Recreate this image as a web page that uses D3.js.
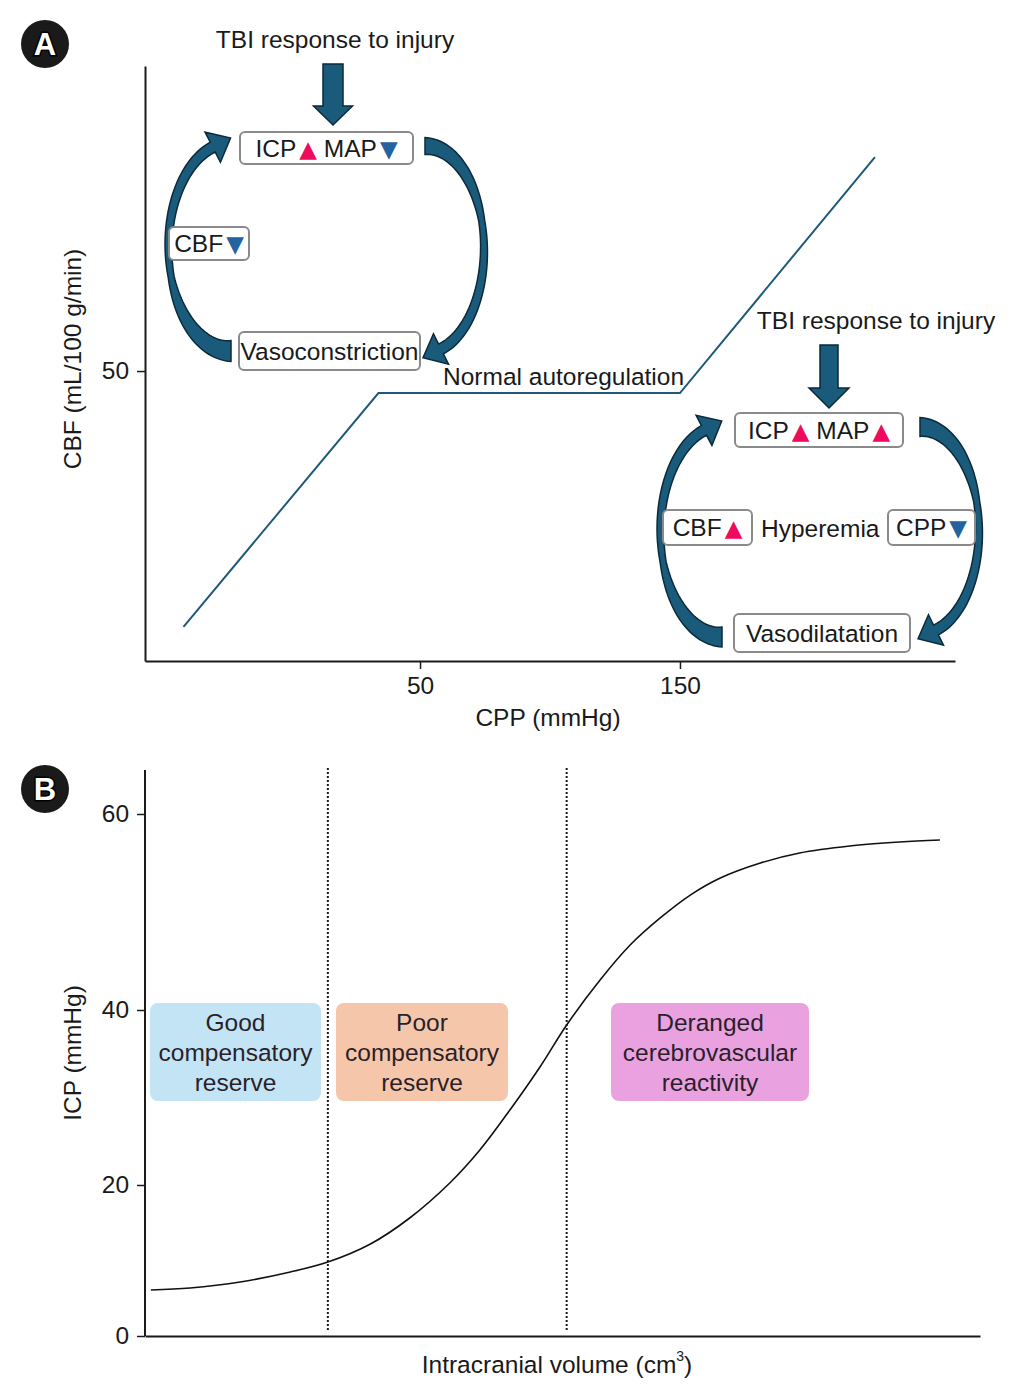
<!DOCTYPE html>
<html>
<head>
<meta charset="utf-8">
<script src="https://cdn.jsdelivr.net/npm/d3@7"></script>
<style>
  body { margin: 0; background: #fff; }
  text { font-family: "Liberation Sans", Arial, sans-serif; fill: #1a1a1a; }
</style>
</head>
<body>
<div id="chart"></div>
<script>
// ---- data ----
// panel A: CBF vs CPP autoregulation curve (schematic units)
const cppValues = [-41, 34, 150, 225];
const cbfValues = [5.9, 46.2, 46.2, 86.9];
const cppTicks = [50, 150];
const cbfTicks = [50];

// panel B: pressure-volume curve
const volValues = [0.7, 5.4, 11.4, 17.4, 21.9, 27.0, 31.7, 36.5, 40.1, 43.7, 47.3, 50.5, 54.5, 58.1, 61.7, 65.3, 68.9, 73.7, 78.4, 84.4, 90.4, 95.2];
const icpValues = [6.09, 6.36, 7.15, 8.48, 9.80, 12.19, 15.63, 20.23, 24.0, 28.57, 33.49, 38.29, 43.06, 46.63, 49.39, 51.73, 53.47, 55.0, 56.02, 56.73, 57.14, 57.35];
const icpTicks = [0, 20, 40, 60];
const zoneBounds = [21.9, 50.5];
const zoneLabels = [
  ["Good", "compensatory", "reserve"],
  ["Poor", "compensatory", "reserve"],
  ["Deranged", "cerebrovascular", "reactivity"]
];

const W = 1029, H = 1395;
const FS = 24.5;
const svg = d3.select("#chart").append("svg").attr("width", W).attr("height", H);

const arrowFill = "#1a5b7b", arrowStroke = "#0b2a3a";
const upCol = "#ee0a5c", downCol = "#2462a0";

function panelLetter(x, y, letter) {
  svg.append("circle").attr("cx", x).attr("cy", y).attr("r", 24).attr("fill", "#1a1a1a");
  svg.append("text").attr("x", x).attr("y", y + 11).attr("text-anchor", "middle")
    .attr("font-size", 31).attr("font-weight", "bold")
    .style("fill", "#fff").attr("stroke", "#000").attr("stroke-width", 3)
    .attr("paint-order", "stroke").text(letter);
}

// thick curved arrow along an ellipse, tail at t0, head at t1 (degrees)
function curvedArrow(a) {
  const n = 80;
  const wScale = d3.scaleLinear().domain([0, 0.45, 1]).range(a.w);
  const left = [], right = [];
  let last;
  for (let i = 0; i <= n; i++) {
    const s = i / n;
    const t = (a.t0 + (a.t1 - a.t0) * s) * Math.PI / 180;
    const p = [a.cx + a.rx * Math.cos(t), a.cy + a.ry * Math.sin(t)];
    let d = [-a.rx * Math.sin(t), a.ry * Math.cos(t)];
    const len = Math.hypot(d[0], d[1]);
    d = [d[0] / len, d[1] / len];
    const nn = [-d[1], d[0]];
    const hw = wScale(s) / 2;
    left.push([p[0] + nn[0] * hw, p[1] + nn[1] * hw]);
    right.push([p[0] - nn[0] * hw, p[1] - nn[1] * hw]);
    last = { p, d, nn };
  }
  const tip = [last.p[0] + last.d[0] * a.headLen, last.p[1] + last.d[1] * a.headLen];
  const bl = [last.p[0] + last.nn[0] * a.headHalf, last.p[1] + last.nn[1] * a.headHalf];
  const br = [last.p[0] - last.nn[0] * a.headHalf, last.p[1] - last.nn[1] * a.headHalf];
  const pts = left.concat([bl, tip, br], right.reverse());
  svg.append("path").attr("d", d3.line()(pts) + "Z")
    .attr("fill", arrowFill).attr("stroke", arrowStroke).attr("stroke-width", 1.5)
    .attr("stroke-linejoin", "miter");
}

function downArrow(cx, top, headStart, tip, shaftW, headW) {
  const pts = [[cx - shaftW / 2, top], [cx + shaftW / 2, top], [cx + shaftW / 2, headStart],
    [cx + headW / 2, headStart], [cx, tip], [cx - headW / 2, headStart], [cx - shaftW / 2, headStart]];
  svg.append("path").attr("d", d3.line()(pts) + "Z")
    .attr("fill", arrowFill).attr("stroke", arrowStroke).attr("stroke-width", 1.5);
}

// box with text parts: strings, or {up:true}/{up:false} triangles
function labelBox(b) {
  svg.append("rect").attr("x", b.x).attr("y", b.y).attr("width", b.w).attr("height", b.h)
    .attr("rx", 5).attr("fill", "#fff").attr("stroke", "#8a8a8a").attr("stroke-width", 2);
  const t = svg.append("text").attr("x", b.x + b.w / 2).attr("y", b.y + b.h / 2 + 8.5)
    .attr("text-anchor", "middle").attr("font-size", FS);
  b.parts.forEach(p => {
    if (typeof p === "string") t.append("tspan").text(p);
    else t.append("tspan").attr("font-family", "DejaVu Sans").attr("font-size", 23).attr("dx", 3)
      .style("fill", p.up ? upCol : downCol).text(p.up ? "▲" : "▼");
  });
}

function styleAxis(g) {
  g.select(".domain").attr("stroke", "#1a1a1a").attr("stroke-width", 2);
  g.selectAll(".tick line").attr("stroke", "#1a1a1a").attr("stroke-width", 1.5);
  g.selectAll(".tick text").attr("font-size", FS)
    .attr("font-family", "Liberation Sans, Arial, sans-serif").style("fill", "#1a1a1a");
}

// ================= PANEL A =================
const ax = { left: 145, right: 955, top: 66, bottom: 661 };
const xA = d3.scaleLinear().domain([-55.8, 255.8]).range([ax.left, ax.right]);
const yA = d3.scaleLinear().domain([0, 102.6]).range([ax.bottom, ax.top]);

panelLetter(45, 44, "A");

svg.append("g").attr("transform", `translate(0,${ax.bottom})`)
  .call(d3.axisBottom(xA).tickValues(cppTicks).tickSize(8).tickSizeOuter(0))
  .call(styleAxis)
  .call(g => g.selectAll(".tick text").attr("y", 16));

svg.append("g").attr("transform", `translate(${ax.left},0)`)
  .call(d3.axisLeft(yA).tickValues(cbfTicks).tickSize(8).tickSizeOuter(0))
  .call(styleAxis)
  .call(g => g.selectAll(".tick text").attr("dx", "-0.2em"));

svg.append("text").attr("x", 548).attr("y", 726).attr("text-anchor", "middle")
  .attr("font-size", FS).text("CPP (mmHg)");
svg.append("text").attr("transform", "translate(81,359) rotate(-90)").attr("text-anchor", "middle")
  .attr("font-size", FS).text("CBF (mL/100 g/min)");

const autoData = cppValues.map((v, i) => ({ x: v, y: cbfValues[i] }));
svg.append("path").datum(autoData)
  .attr("d", d3.line().x(d => xA(d.x)).y(d => yA(d.y)))
  .attr("fill", "none").attr("stroke", "#1f5a78").attr("stroke-width", 2);

svg.append("text").attr("x", 443).attr("y", 385).attr("font-size", FS).text("Normal autoregulation");

// left cycle (vasoconstriction)
svg.append("text").attr("x", 335).attr("y", 48).attr("text-anchor", "middle")
  .attr("font-size", FS).text("TBI response to injury");
downArrow(333, 64, 106, 125, 20, 39);
curvedArrow({ cx: 231, cy: 246.8, rx: 62.5, ry: 104.2, t0: 90, t1: 253, w: [21, 6, 11], headLen: 20, headHalf: 17 });
curvedArrow({ cx: 425, cy: 249.4, rx: 59, ry: 103.4, t0: -90, t1: 74.3, w: [17, 6, 11], headLen: 20, headHalf: 17 });
labelBox({ x: 240, y: 132, w: 173, h: 32, parts: ["ICP", { up: true }, " MAP", { up: false }] });
labelBox({ x: 169, y: 227, w: 80, h: 33, parts: ["CBF", { up: false }] });
labelBox({ x: 239, y: 332, w: 181, h: 38, parts: ["Vasoconstriction"] });

// right cycle (vasodilatation)
svg.append("text").attr("x", 876).attr("y", 329).attr("text-anchor", "middle")
  .attr("font-size", FS).text("TBI response to injury");
downArrow(829, 345, 388, 408, 18, 40);
curvedArrow({ cx: 722, cy: 531.4, rx: 61.5, ry: 105.6, t0: 90, t1: 253, w: [20, 6, 11], headLen: 20, headHalf: 17 });
curvedArrow({ cx: 920, cy: 530.4, rx: 59, ry: 103.4, t0: -90, t1: 74.3, w: [19, 6, 11], headLen: 20, headHalf: 17 });
labelBox({ x: 735, y: 413, w: 168, h: 34, parts: ["ICP", { up: true }, " MAP", { up: true }] });
labelBox({ x: 663, y: 510, w: 89, h: 35, parts: ["CBF", { up: true }] });
svg.append("text").attr("x", 761).attr("y", 537).attr("font-size", FS).text("Hyperemia");
labelBox({ x: 888, y: 510, w: 87, h: 35, parts: ["CPP", { up: false }] });
labelBox({ x: 734, y: 614, w: 176, h: 38, parts: ["Vasodilatation"] });

// ================= PANEL B =================
const bx = { left: 145, right: 980, top: 770, bottom: 1336 };
const xB = d3.scaleLinear().domain([0, 100]).range([bx.left, bx.right]);
const yB = d3.scaleLinear().domain(icpTicks).range([1336, 1185, 1010, 814]);

panelLetter(45, 789, "B");

svg.append("g").attr("transform", `translate(0,${bx.bottom})`)
  .call(d3.axisBottom(xB).tickValues([]).tickSizeOuter(0))
  .call(styleAxis);

svg.append("g").attr("transform", `translate(${bx.left},0)`)
  .call(d3.axisLeft(yB).tickValues(icpTicks).tickSize(8).tickSizeOuter(0))
  .call(styleAxis)
  .call(g => g.select(".domain").attr("d", `M0,${bx.top}V${bx.bottom}`))
  .call(g => g.selectAll(".tick text").attr("dx", "-0.2em"));

const xl = svg.append("text").attr("x", 557).attr("y", 1373).attr("text-anchor", "middle")
  .attr("font-size", FS);
xl.append("tspan").text("Intracranial volume (cm");
xl.append("tspan").attr("font-size", 14).attr("dy", -12).text("3");
xl.append("tspan").attr("dy", 12).text(")");

svg.append("text").attr("transform", "translate(81,1053) rotate(-90)").attr("text-anchor", "middle")
  .attr("font-size", FS).text("ICP (mmHg)");

// zone boxes
const zoneBoxes = [
  { x0: 150, x1: 321, fill: "#c3e4f4" },
  { x0: 336, x1: 508, fill: "#f5c6aa" },
  { x0: 611, x1: 809, fill: "#e9a2df" }
];
zoneBoxes.forEach((z, i) => {
  svg.append("rect").attr("x", z.x0).attr("y", yB(40) - 7).attr("width", z.x1 - z.x0)
    .attr("height", 98).attr("rx", 8).attr("fill", z.fill);
  const t = svg.append("text").attr("text-anchor", "middle").attr("font-size", FS)
    .style("fill", "#2a1f2a");
  zoneLabels[i].forEach((line, j) => {
    t.append("tspan").attr("x", (z.x0 + z.x1) / 2).attr("y", 1031 + j * 30).text(line);
  });
});

// dotted boundaries
zoneBounds.forEach(v => {
  svg.append("line").attr("x1", xB(v)).attr("x2", xB(v)).attr("y1", 768).attr("y2", 1330)
    .attr("stroke", "#1a1a1a").attr("stroke-width", 2).attr("stroke-dasharray", "2,2");
});

const pvData = volValues.map((v, i) => ({ x: v, y: icpValues[i] }));
svg.append("path").datum(pvData)
  .attr("d", d3.line().x(d => xB(d.x)).y(d => yB(d.y)).curve(d3.curveCatmullRom))
  .attr("fill", "none").attr("stroke", "#111").attr("stroke-width", 1.6);
</script>
</body>
</html>
